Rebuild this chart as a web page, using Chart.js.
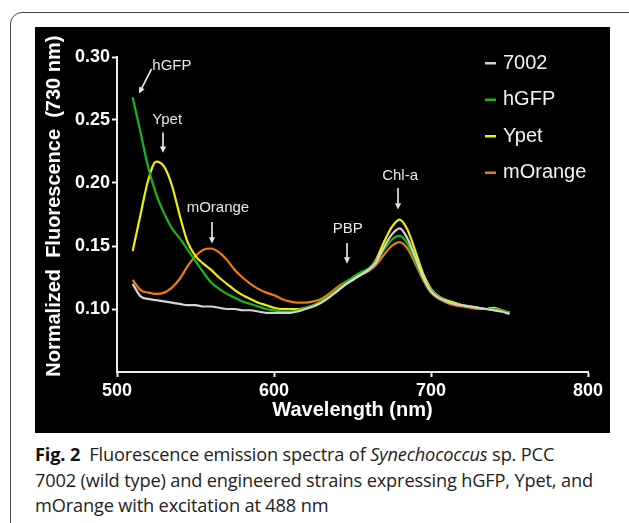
<!DOCTYPE html>
<html>
<head>
<meta charset="utf-8">
<script src="https://cdn.jsdelivr.net/npm/chart.js@4.4.1/dist/chart.umd.min.js"></script>
<style>
  html, body { margin: 0; padding: 0; background: #fff; width: 629px; height: 523px; overflow: hidden; }
  .frame { position: absolute; left: 10px; top: 12px; width: 660px; height: 560px;
           border: 1px solid #444; border-radius: 12px; }
  .panel { position: absolute; left: 35px; top: 27px; width: 575px; height: 406px; background: #000; }
  .cap { position: absolute; left: 35px; top: 442px; font-family: "Open Sans", sans-serif;
         font-size: 18.2px; line-height: 25.5px; color: #222; letter-spacing: -0.15px; white-space: nowrap; }
  .cap b { color: #111; }
</style>
</head>
<body>
<div class="frame"></div>
<div class="panel"><canvas id="myChart"></canvas></div>
<div class="cap"><b>Fig. 2</b>&nbsp; Fluorescence emission spectra of <i>Synechococcus</i> sp. PCC<br>7002 (wild type) and engineered strains expressing hGFP, Ypet, and<br>mOrange with excitation at 488 nm</div>
<script>
// wavelength (nm), every 5 nm from 510 to 750
const wavelengths = [510,515,520,525,530,535,540,545,550,555,560,565,570,575,580,585,590,595,600,605,
  610,615,620,625,630,635,640,645,650,655,660,665,670,675,680,685,690,695,700,705,
  710,715,720,725,730,735,740,745,750];

const seriesNames = ['7002', 'hGFP', 'Ypet', 'mOrange'];
const seriesColors = ['#d4d4d4', '#1cb41c', '#f2ee00', '#f07a10'];

const wt7002 = [0.120,0.110,0.108,0.107,0.106,0.105,0.104,0.103,0.103,0.102,0.102,0.101,0.100,0.100,0.099,0.099,0.098,0.097,0.097,0.097,
  0.097,0.098,0.100,0.102,0.105,0.109,0.114,0.119,0.123,0.127,0.131,0.137,0.149,0.159,0.164,0.156,0.141,0.125,0.114,0.109,
  0.106,0.104,0.103,0.102,0.101,0.100,0.099,0.098,0.096];
const hGFP = [0.268,0.240,0.212,0.191,0.176,0.164,0.156,0.147,0.138,0.129,0.121,0.116,0.112,0.109,0.106,0.104,0.102,0.100,0.099,0.098,
  0.098,0.099,0.101,0.103,0.106,0.110,0.115,0.121,0.125,0.129,0.132,0.138,0.147,0.155,0.158,0.152,0.138,0.124,0.115,0.110,
  0.106,0.104,0.103,0.102,0.101,0.100,0.100,0.099,0.097];
const ypet = [0.146,0.175,0.203,0.217,0.213,0.198,0.174,0.153,0.142,0.136,0.131,0.125,0.120,0.115,0.111,0.108,0.105,0.103,0.101,0.100,
  0.100,0.100,0.101,0.103,0.106,0.110,0.114,0.119,0.123,0.127,0.131,0.139,0.153,0.165,0.171,0.163,0.146,0.128,0.116,0.110,
  0.107,0.105,0.103,0.102,0.101,0.100,0.101,0.099,0.097];
const mOrange = [0.123,0.115,0.113,0.112,0.113,0.117,0.124,0.134,0.142,0.147,0.148,0.145,0.139,0.131,0.125,0.120,0.116,0.113,0.111,0.108,
  0.106,0.105,0.105,0.106,0.108,0.112,0.117,0.121,0.124,0.127,0.130,0.135,0.143,0.150,0.153,0.148,0.136,0.123,0.113,0.108,
  0.105,0.103,0.102,0.101,0.100,0.100,0.099,0.098,0.097];

const xTicks = [500, 600, 700, 800];
const yTicks = [0.10, 0.15, 0.20, 0.25, 0.30];

// peak labels with arrows, in data units: label point, arrow start, arrow end
const notes = [
  { text: 'hGFP',    tx: 535,   ty: 0.293, x1: 522,   y1: 0.2905, x2: 514,   y2: 0.271 },
  { text: 'Ypet',    tx: 532,   ty: 0.250, x1: 529.3, y1: 0.240,  x2: 529.3, y2: 0.224 },
  { text: 'mOrange', tx: 564.3, ty: 0.180, x1: 560.5, y1: 0.169,  x2: 560.5, y2: 0.152 },
  { text: 'PBP',     tx: 647,   ty: 0.1635,x1: 646.5, y1: 0.1524, x2: 646.5, y2: 0.136 },
  { text: 'Chl-a',   tx: 680.3, ty: 0.2056,x1: 679,   y1: 0.196,  x2: 679,   y2: 0.179 }
];

const allSeries = [wt7002, hGFP, ypet, mOrange];

function toPoints(vals) {
  return vals.map((v, i) => ({ x: wavelengths[i], y: v }));
}

const notesPlugin = {
  id: 'notes',
  afterDatasetsDraw(chart) {
    const { ctx, scales: { x, y } } = chart;
    ctx.save();
    ctx.fillStyle = '#e6e6e6';
    ctx.strokeStyle = '#f0f0f0';
    ctx.lineWidth = 1.6;
    ctx.font = '15px "Liberation Sans", Arial, sans-serif';
    ctx.textAlign = 'center';
    ctx.textBaseline = 'middle';
    notes.forEach(n => {
      ctx.fillText(n.text, x.getPixelForValue(n.tx), y.getPixelForValue(n.ty));
      const ax = x.getPixelForValue(n.x1), ay = y.getPixelForValue(n.y1);
      const bx = x.getPixelForValue(n.x2), by = y.getPixelForValue(n.y2);
      const ang = Math.atan2(by - ay, bx - ax);
      const head = 7;
      ctx.beginPath();
      ctx.moveTo(ax, ay);
      ctx.lineTo(bx - Math.cos(ang) * head * 0.8, by - Math.sin(ang) * head * 0.8);
      ctx.stroke();
      ctx.beginPath();
      ctx.moveTo(bx, by);
      ctx.lineTo(bx - head * Math.cos(ang - 0.45), by - head * Math.sin(ang - 0.45));
      ctx.lineTo(bx - head * Math.cos(ang + 0.45), by - head * Math.sin(ang + 0.45));
      ctx.closePath();
      ctx.fill();
    });
    ctx.restore();
  }
};

// legend drawn inside the plot, top right
const legendPlugin = {
  id: 'innerLegend',
  afterDraw(chart) {
    const { ctx, chartArea } = chart;
    ctx.save();
    ctx.font = '20px "Liberation Sans", Arial, sans-serif';
    ctx.textBaseline = 'middle';
    chart.data.datasets.forEach((ds, i) => {
      const lx = chartArea.right - 103;
      const ly = chartArea.top + 6 + i * 36.5;
      ctx.fillStyle = ds.borderColor;
      ctx.fillRect(lx, ly - 1, 11, 2.5);
      ctx.fillStyle = '#f2f2f2';
      ctx.fillText(ds.label, lx + 18, ly);
    });
    ctx.restore();
  }
};

const tickFont = { family: '"Liberation Sans", Arial, sans-serif', size: 18, weight: 'bold' };
const titleFont = { family: '"Liberation Sans", Arial, sans-serif', size: 20, weight: 'bold' };

function createChart() {
  const ctx = document.getElementById('myChart').getContext('2d');
  return new Chart(ctx, {
    type: 'line',
    data: {
      datasets: allSeries.map((vals, i) => ({
        label: seriesNames[i],
        data: toPoints(vals),
        borderColor: seriesColors[i],
        borderWidth: 2.2,
        pointRadius: 0,
        tension: 0.4,
        cubicInterpolationMode: 'monotone',
        fill: false
      }))
    },
    options: {
      responsive: true,
      maintainAspectRatio: false,
      animation: false,
      layout: { padding: { left: 0, top: 30, right: 22, bottom: 0 } },
      plugins: { legend: { display: false }, tooltip: { enabled: false } },
      scales: {
        x: {
          type: 'linear',
          min: 500, max: 800,
          afterBuildTicks: s => { s.ticks = xTicks.map(v => ({ value: v })); },
          afterFit: s => { s.height = 61; },
          grid: { drawOnChartArea: false, drawTicks: true, tickLength: 5, tickWidth: 2, tickColor: '#eeeeee' },
          border: { display: true, color: '#eeeeee', width: 2 },
          ticks: { color: '#ffffff', font: tickFont, padding: 3, maxRotation: 0 },
          title: { display: true, text: 'Wavelength (nm)', color: '#ffffff', font: titleFont, padding: { top: 0, bottom: 11 } }
        },
        y: {
          min: 0.05, max: 0.30,
          afterBuildTicks: s => { s.ticks = yTicks.map(v => ({ value: v })); },
          afterFit: s => { s.width = 82; },
          grid: { drawOnChartArea: false, drawTicks: true, tickLength: 5, tickWidth: 2, tickColor: '#eeeeee' },
          border: { display: true, color: '#eeeeee', width: 2 },
          ticks: { color: '#ffffff', font: tickFont, padding: 2, callback: v => v.toFixed(2) },
          // leading spaces nudge the centred title up a little, as in the figure
          title: { display: true, text: '   Normalized  Fluorescence  (730 nm)', color: '#ffffff', font: titleFont, padding: { top: 7, bottom: 0 } }
        }
      }
    },
    plugins: [notesPlugin, legendPlugin]
  });
}

createChart();
</script>
</body>
</html>
